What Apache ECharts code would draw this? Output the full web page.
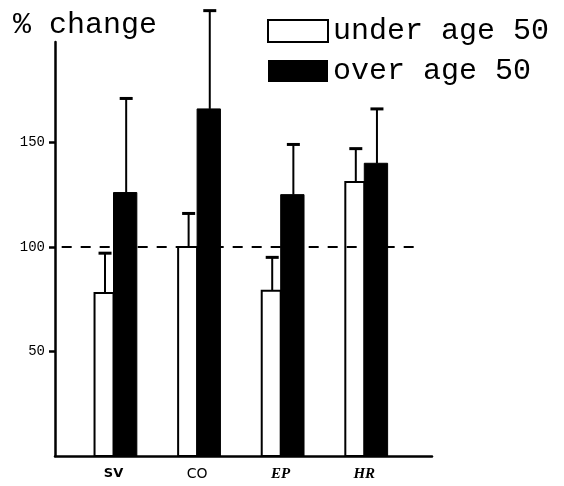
<!DOCTYPE html>
<html>
<head>
<meta charset="utf-8">
<script src="https://cdn.jsdelivr.net/npm/echarts@6/dist/echarts.min.js"></script>
<style>html,body{margin:0;padding:0;background:#fff}#c{width:564px;height:486px}</style>
</head>
<body>
<div id="c"></div>
<script>
// ---- data ----
const categories = ['SV', 'CO', 'EP', 'HR'];
const underMean = [78, 100, 79, 131];
const underErr  = [19, 16, 16, 16];
const overMean  = [126, 166, 125, 140];
const overErr   = [45, 47, 24, 26];
const yTicks = [50, 100, 150];
const refValue = 100;

// ---- layout constants ----
const X_MIN = -0.70, X_MAX = 3.81;
const REF_X0 = -0.62, REF_X1 = 3.69;
const WHITE_W = 0.227, BLACK_W = 0.279;
const FONT = "'Liberation Mono', 'DejaVu Sans Mono', monospace";
const labelStyles = ['sb', 'sn', 'ib', 'ib'];

function makeRender(isUnder) {
  return function (params, api) {
    const idx = api.value(0), mean = api.value(1), err = api.value(2);
    const p0 = api.coord([idx, 0]);
    const pTop = api.coord([idx, mean]);
    const pErr = api.coord([idx, mean + err]);
    const band = api.size([1, 0])[0];
    const w = (isUnder ? WHITE_W : BLACK_W) * band;
    const x0 = isUnder ? p0[0] - w : p0[0];
    const cx = x0 + w / 2 + 1;
    return {
      type: 'group',
      children: [
        { type: 'line', shape: { x1: cx, y1: pTop[1], x2: cx, y2: pErr[1] },
          style: { stroke: '#000', lineWidth: 2 } },
        { type: 'line', shape: { x1: cx - 6.5, y1: pErr[1], x2: cx + 6.5, y2: pErr[1] },
          style: { stroke: '#000', lineWidth: 3 } },
        { type: 'rect', shape: { x: x0, y: pTop[1], width: w, height: p0[1] - pTop[1] },
          style: isUnder ? { fill: '#fff', stroke: '#000', lineWidth: 2 } : { fill: '#000', stroke: '#000', lineWidth: 1 } }
      ]
    };
  };
}

const chart = echarts.init(document.getElementById('c'));
chart.setOption({
  animation: false,
  backgroundColor: '#fff',
  title: {
    text: '% change', left: 8, top: 5,
    textStyle: { fontFamily: FONT, fontSize: 30, fontWeight: 'normal', color: '#000' }
  },
  legend: {
    orient: 'vertical', left: 262, top: 11, itemWidth: 60, itemHeight: 22, itemGap: 10,
    selectedMode: false,
    textStyle: { fontFamily: FONT, fontSize: 30, color: '#000', lineHeight: 30 },
    data: [
      { name: 'under age 50', icon: 'rect', itemStyle: { color: '#fff', borderColor: '#000', borderWidth: 2 } },
      { name: 'over age 50', icon: 'rect', itemStyle: { color: '#000', borderColor: '#000', borderWidth: 0 } }
    ]
  },
  grid: { left: 55, right: 132, top: 42, bottom: 30, containLabel: false },
  xAxis: {
    type: 'value', min: X_MIN, max: X_MAX,
    axisLine: { show: true, onZero: false, lineStyle: { color: '#000', width: 2.5 } },
    axisTick: { show: false },
    splitLine: { show: false },
    axisLabel: {
      customValues: categories.map((c, i) => i),
      formatter: v => { const i = Math.round(v); return '{' + labelStyles[i] + '|' + categories[i] + '}'; },
      color: '#000', margin: 11,
      rich: {
        sb: { fontFamily: "'DejaVu Sans', sans-serif", fontWeight: 'bold', fontSize: 13, color: '#000' },
        sn: { fontFamily: "'DejaVu Sans', sans-serif", fontWeight: 'normal', fontSize: 14, color: '#000' },
        ib: { fontFamily: "'Liberation Serif', serif", fontWeight: 'bold', fontStyle: 'italic', fontSize: 15, color: '#000' }
      }
    }
  },
  yAxis: {
    type: 'value', min: 0, max: 198, interval: 50,
    axisLine: { show: true, onZero: false, lineStyle: { color: '#000', width: 2.5 } },
    axisTick: { show: true, customValues: yTicks, length: 6, lineStyle: { color: '#000', width: 2.5 } },
    splitLine: { show: false },
    axisLabel: { customValues: yTicks, fontFamily: FONT, fontSize: 14, color: '#000', margin: 10 }
  },
  series: [
    {
      name: 'under age 50', type: 'custom', clip: false,
      itemStyle: { color: '#fff', borderColor: '#000' },
      renderItem: makeRender(true),
      data: categories.map((c, i) => [i, underMean[i], underErr[i]])
    },
    {
      name: 'over age 50', type: 'custom', clip: false,
      itemStyle: { color: '#000' },
      renderItem: makeRender(false),
      data: categories.map((c, i) => [i, overMean[i], overErr[i]]),
      markLine: {
        silent: true, symbol: 'none', label: { show: false },
        lineStyle: { color: '#000', width: 2, type: [10, 9] },
        data: [[{ coord: [REF_X0, refValue] }, { coord: [REF_X1, refValue] }]]
      }
    }
  ]
});
</script>
</body>
</html>
